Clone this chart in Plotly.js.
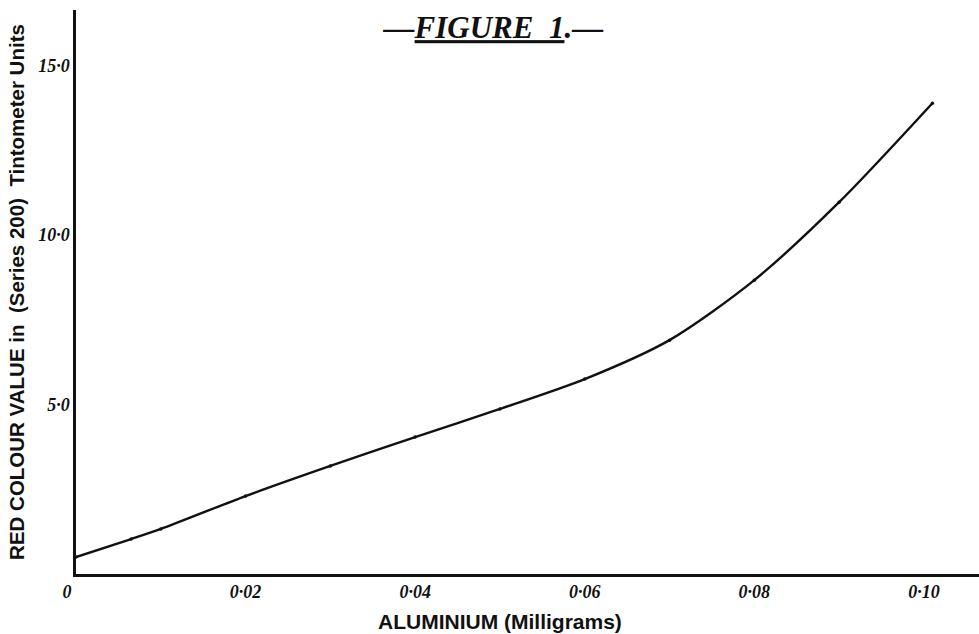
<!DOCTYPE html>
<html>
<head>
<meta charset="utf-8">
<script src="https://cdn.plot.ly/plotly-3.0.1.min.js"></script>
<style>
html, body { margin: 0; padding: 0; background: #ffffff; }
#chart { width: 979px; height: 634px; }
</style>
</head>
<body>
<div id="chart"></div>
<script>
// Aluminium (mg) vs red colour value (Tintometer units, Series 200)
const aluminium = [0, 0.0065, 0.01, 0.02, 0.03, 0.04, 0.05, 0.06, 0.07, 0.08, 0.09, 0.101];
const redValue = [0.50, 1.03, 1.33, 2.30, 3.19, 4.04, 4.87, 5.75, 6.90, 8.67, 10.97, 13.89];

const xTickVals = [0, 0.02, 0.04, 0.06, 0.08, 0.10];
const xTickText = ["0\u00A0\u00A0\u00A0\u00A0", "0·02", "0·04", "0·06", "0·08", "0·10"];
const yTickVals = [5, 10, 15];
const yTickText = ["5·0", "10·0", "15·0"];

const tickFont = {family: "Liberation Serif, DejaVu Serif, serif", size: 18, color: "#111"};

const bi = s => "<b><i>" + s + "</i></b>";

const trace = {
  x: aluminium,
  y: redValue,
  type: "scatter",
  mode: "lines+markers",
  line: {color: "#111", width: 2.4, shape: "spline", smoothing: 0.8},
  marker: {color: "#111", size: 3.5},
  showlegend: false,
  hoverinfo: "x+y"
};

const layout = {
  width: 979,
  height: 634,
  paper_bgcolor: "#ffffff",
  plot_bgcolor: "#ffffff",
  margin: {l: 76, r: 0, t: 10, b: 60},
  showlegend: false,
  title: {
    text: "<b><i>—<span style=\"text-decoration:underline\">FIGURE  1</span>.—</i></b>",
    x: 0.504, xref: "container", xanchor: "center",
    y: 0.957, yref: "container", yanchor: "middle",
    font: {family: "Liberation Serif, DejaVu Serif, serif", size: 31, color: "#111"}
  },
  annotations: [{
    text: "<b>ALUMINIUM (Milligrams)</b>",
    xref: "paper", yref: "paper",
    x: 0.4695, y: -0.085,
    xanchor: "center", yanchor: "middle",
    showarrow: false,
    font: {family: "Liberation Sans, Arial, sans-serif", size: 21, color: "#111"}
  }],
  xaxis: {
    range: [0, 0.1065],
    tickvals: xTickVals,
    ticktext: xTickText.map(bi),
    tickfont: tickFont,
    ticks: "",
    ticklen: 0,
    showgrid: false,
    zeroline: false,
    showline: true,
    linecolor: "#111",
    linewidth: 2.6,
    fixedrange: true
  },
  yaxis: {
    range: [0, 16.64],
    tickvals: yTickVals,
    ticktext: yTickText.map(bi),
    tickfont: tickFont,
    ticks: "",
    ticklen: 0,
    showgrid: false,
    zeroline: false,
    showline: true,
    linecolor: "#111",
    linewidth: 2.6,
    fixedrange: true,
    title: {text: "<b>RED COLOUR VALUE in  (Series 200)  Tintometer Units</b>", font: {family: "Liberation Sans, Arial, sans-serif", size: 20.5, color: "#111"}, standoff: 8}
  }
};

Plotly.newPlot("chart", [trace], layout, {displayModeBar: false, staticPlot: true});
</script>
</body>
</html>
